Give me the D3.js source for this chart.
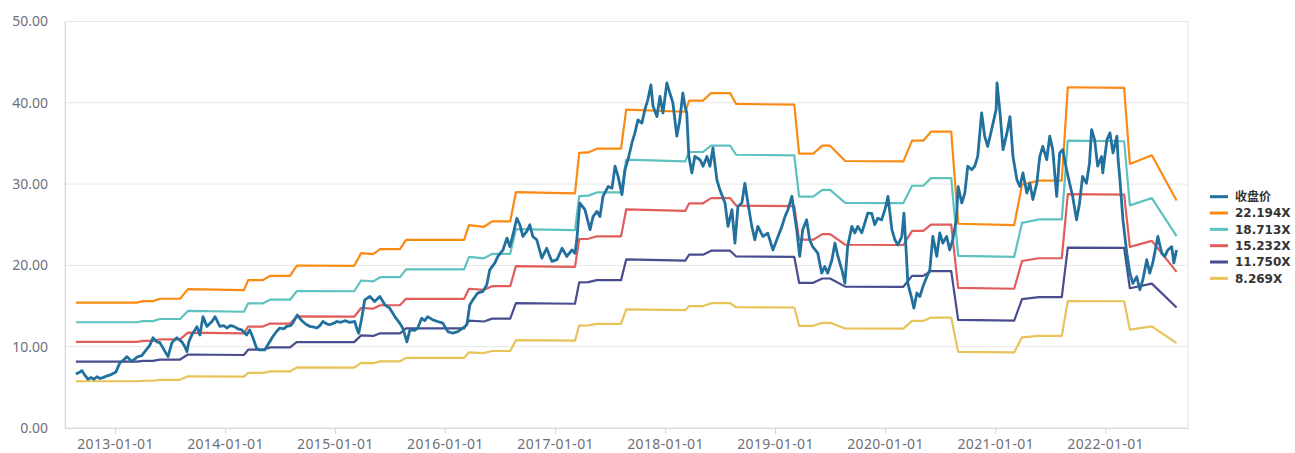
<!DOCTYPE html>
<html>
<head>
<meta charset="utf-8">
<script src="https://cdn.jsdelivr.net/npm/d3@7"></script>
<style>
  body { margin: 0; background: #fff; }
  svg { display: block; font-family: "Noto Sans", "Noto Sans CJK SC", sans-serif; }
</style>
</head>
<body>
<svg id="chart" width="1295" height="453"></svg>
<script>
// close price
const closePrice = [
  ["2012-08-24",6.65],["2012-09-07",6.9],["2012-09-13",7.06],["2012-09-23",6.5],["2012-10-03",6.0],["2012-10-13",6.2],["2012-10-23",6.0],["2012-11-02",6.3],["2012-11-12",6.1],["2012-11-22",6.2],["2012-12-05",6.4],["2012-12-15",6.5],
  ["2013-01-04",6.9],["2013-01-17",8.0],["2013-01-31",8.4],["2013-02-09",8.78],["2013-02-26",8.17],["2013-03-08",8.5],["2013-03-18",8.78],["2013-03-31",8.9],["2013-04-10",9.4],["2013-04-27",10.2],["2013-05-07",11.1],["2013-05-20",10.6],["2013-05-30",10.5],["2013-06-09",9.85],["2013-06-26",8.78],["2013-07-09",10.5],["2013-07-25",11.1],["2013-08-11",10.6],["2013-08-21",10.0],["2013-08-28",9.4],["2013-09-03",10.6],["2013-09-13",11.45],["2013-09-30",12.47],["2013-10-10",11.45],["2013-10-20",13.7],["2013-11-02",12.5],["2013-11-19",13.1],["2013-11-29",13.7],["2013-12-15",12.5],["2013-12-28",12.6],
  ["2014-01-07",12.3],["2014-01-20",12.6],["2014-01-30",12.5],["2014-02-13",12.2],["2014-02-26",12.07],["2014-03-14",11.45],["2014-03-24",12.07],["2014-04-03",11.2],["2014-04-16",9.8],["2014-04-26",9.6],["2014-05-13",9.6],["2014-05-23",10.2],["2014-06-09",11.25],["2014-06-22",11.9],["2014-07-02",12.3],["2014-07-15",12.2],["2014-07-25",12.5],["2014-08-07",12.6],["2014-08-14",12.9],["2014-08-29",13.9],["2014-09-06",13.5],["2014-09-16",13.1],["2014-09-29",12.7],["2014-10-10",12.5],["2014-10-23",12.4],["2014-11-02",12.3],["2014-11-12",12.6],["2014-11-22",13.1],["2014-12-05",12.8],["2014-12-15",12.7],["2014-12-29",12.9],
  ["2015-01-07",13.1],["2015-01-20",13.0],["2015-02-03",13.2],["2015-02-19",13.0],["2015-03-08",13.1],["2015-03-14",12.3],["2015-03-21",11.66],["2015-03-31",13.5],["2015-04-10",15.76],["2015-04-27",16.17],["2015-05-13",15.55],["2015-05-30",16.17],["2015-06-16",15.15],["2015-07-02",14.74],["2015-07-19",13.7],["2015-08-04",12.9],["2015-08-14",12.3],["2015-08-28",10.6],["2015-09-07",12.07],["2015-09-23",12.0],["2015-10-03",12.3],["2015-10-16",13.5],["2015-10-26",13.2],["2015-11-05",13.7],["2015-11-22",13.3],["2015-12-08",13.1],["2015-12-25",12.9],
  ["2016-01-11",11.86],["2016-01-27",11.66],["2016-02-13",11.86],["2016-02-29",12.27],["2016-03-14",12.7],["2016-03-24",15.15],["2016-04-03",15.76],["2016-04-19",16.6],["2016-05-06",16.8],["2016-05-19",17.6],["2016-05-29",19.46],["2016-06-15",20.3],["2016-06-25",21.1],["2016-07-12",21.9],["2016-07-25",23.36],["2016-08-04",22.3],["2016-08-14",23.77],["2016-08-27",25.8],["2016-09-06",25.0],["2016-09-16",23.56],["2016-09-29",24.18],["2016-10-09",25.0],["2016-10-19",23.56],["2016-11-01",23.15],["2016-11-18",20.9],["2016-12-04",22.1],["2016-12-21",20.5],
  ["2017-01-07",20.7],["2017-01-24",22.1],["2017-02-09",21.1],["2017-02-26",21.9],["2017-03-08",21.5],["2017-03-14",23.15],["2017-03-24",27.67],["2017-04-10",26.85],["2017-04-27",24.4],["2017-05-07",26.0],["2017-05-20",26.64],["2017-05-30",26.0],["2017-06-09",28.5],["2017-06-26",29.7],["2017-07-09",29.5],["2017-07-19",32.2],["2017-07-29",30.95],["2017-08-11",28.7],["2017-08-21",31.77],["2017-08-31",33.0],["2017-09-13",35.06],["2017-09-23",36.3],["2017-10-03",37.9],["2017-10-16",37.5],["2017-10-26",39.16],["2017-11-05",40.4],["2017-11-15",42.2],["2017-11-22",39.6],["2017-12-05",38.3],["2017-12-15",40.8],["2017-12-25",38.75],
  ["2018-01-07",42.45],["2018-01-17",41.2],["2018-01-27",40.0],["2018-02-09",35.9],["2018-02-19",37.9],["2018-03-01",41.2],["2018-03-08",39.6],["2018-03-14",38.75],["2018-03-21",33.4],["2018-03-31",31.37],["2018-04-10",33.4],["2018-04-27",33.0],["2018-05-07",32.2],["2018-05-20",33.4],["2018-05-30",32.2],["2018-06-09",34.45],["2018-06-22",30.54],["2018-07-02",29.3],["2018-07-19",27.67],["2018-07-29",24.8],["2018-08-11",26.85],["2018-08-21",22.75],["2018-08-31",27.25],["2018-09-13",27.67],["2018-09-23",30.1],["2018-10-03",27.67],["2018-10-16",24.8],["2018-10-26",23.15],["2018-11-05",24.8],["2018-11-22",23.56],["2018-12-08",23.97],["2018-12-25",21.9],
  ["2019-01-11",23.56],["2019-01-24",24.8],["2019-02-03",26.0],["2019-02-13",26.85],["2019-02-26",28.5],["2019-03-01",27.7],["2019-03-14",24.4],["2019-03-24",21.1],["2019-04-03",24.4],["2019-04-16",25.6],["2019-04-26",23.15],["2019-05-06",22.3],["2019-05-23",21.5],["2019-06-05",19.05],["2019-06-15",19.86],["2019-06-25",19.05],["2019-07-09",20.7],["2019-07-19",22.75],["2019-07-29",21.1],["2019-08-11",19.46],["2019-08-21",17.8],["2019-08-30",22.3],["2019-09-13",24.8],["2019-09-23",24.0],["2019-10-03",24.8],["2019-10-16",24.0],["2019-10-26",25.2],["2019-11-05",26.44],["2019-11-18",26.4],["2019-11-28",25.0],["2019-12-08",25.8],["2019-12-21",25.6],
  ["2020-01-04",27.25],["2020-01-11",28.5],["2020-01-24",24.4],["2020-02-03",23.15],["2020-02-13",22.5],["2020-02-26",23.56],["2020-03-04",26.44],["2020-03-10",22.75],["2020-03-17",17.8],["2020-03-31",15.76],["2020-04-06",14.74],["2020-04-16",16.6],["2020-04-26",16.17],["2020-05-06",17.4],["2020-05-19",18.6],["2020-05-29",19.46],["2020-06-08",23.56],["2020-06-21",21.1],["2020-07-01",24.0],["2020-07-11",22.75],["2020-07-24",23.56],["2020-08-03",21.9],["2020-08-13",23.15],["2020-08-25",25.6],["2020-08-31",29.7],["2020-09-12",27.67],["2020-09-22",28.9],["2020-10-02",32.2],["2020-10-15",31.77],["2020-10-25",32.2],["2020-11-04",33.4],["2020-11-17",38.75],["2020-11-27",35.9],["2020-12-07",34.64],["2020-12-20",36.7],
  ["2021-01-04",39.16],["2021-01-07",42.45],["2021-01-17",38.75],["2021-01-27",34.24],["2021-02-09",36.3],["2021-02-19",38.3],["2021-03-01",33.4],["2021-03-14",30.54],["2021-03-24",29.7],["2021-04-03",31.37],["2021-04-16",28.9],["2021-04-26",30.1],["2021-05-06",28.1],["2021-05-19",30.1],["2021-05-29",33.4],["2021-06-08",34.64],["2021-06-21",33.0],["2021-07-01",35.9],["2021-07-11",34.24],["2021-07-24",28.5],["2021-08-03",33.83],["2021-08-13",34.24],["2021-08-26",31.77],["2021-09-05",30.1],["2021-09-15",28.5],["2021-09-28",25.6],["2021-10-08",27.67],["2021-10-18",30.95],["2021-10-31",30.1],["2021-11-10",32.6],["2021-11-17",36.7],["2021-11-27",35.47],["2021-12-07",32.2],["2021-12-20",33.4],["2021-12-24",31.37],
  ["2022-01-07",35.47],["2022-01-17",36.3],["2022-01-27",33.83],["2022-02-09",35.9],["2022-02-13",33.0],["2022-02-19",30.54],["2022-03-01",25.6],["2022-03-14",21.5],["2022-03-24",19.05],["2022-04-03",17.8],["2022-04-16",18.6],["2022-04-26",17.0],["2022-05-06",18.2],["2022-05-19",20.7],["2022-05-29",19.05],["2022-06-08",20.3],["2022-06-25",23.56],["2022-07-08",21.5],["2022-07-18",21.1],["2022-07-28",21.9],["2022-08-10",22.3],["2022-08-17",20.3],["2022-08-26",21.9]
]

// PE band break points (dates) and the value of each band at them
const bandDates = [
  "2012-08-24","2013-03-15","2013-04-04","2013-05-07","2013-05-30","2013-08-05","2013-08-31","2014-03-05","2014-03-19","2014-05-07",
  "2014-05-31","2014-08-05","2014-08-28","2015-03-06","2015-03-29","2015-05-08","2015-05-31","2015-08-05","2015-08-25","2016-03-05",
  "2016-03-21","2016-05-10","2016-06-06","2016-08-05","2016-08-24","2017-03-08","2017-03-22","2017-04-21","2017-05-20","2017-08-08",
  "2017-08-25","2018-03-09","2018-03-22","2018-05-07","2018-06-03","2018-08-05","2018-08-25","2019-03-06","2019-03-22","2019-05-08",
  "2019-06-07","2019-07-03","2019-08-22","2020-03-02","2020-03-31","2020-05-07","2020-06-02","2020-08-08","2020-08-31","2021-03-05",
  "2021-03-31","2021-05-26","2021-08-10","2021-08-30","2022-03-05","2022-03-24","2022-06-05","2022-08-26"
]
const pe22194 = [15.43,15.43,15.6,15.6,15.9,15.9,17.08,16.96,18.19,18.19,18.72,18.72,19.99,19.95,21.51,21.39,22.0,22.0,23.15,23.15,24.96,24.75,25.41,25.41,29.02,28.86,33.83,33.9,34.36,34.36,39.16,38.9,40.27,40.27,41.2,41.2,39.86,39.78,33.74,33.74,34.73,34.73,32.84,32.8,35.34,35.34,36.45,36.45,25.12,24.96,29.93,30.42,30.42,41.91,41.83,32.47,33.54,27.99]
const pe18713 = [13.01,13.01,13.15,13.15,13.41,13.41,14.40,14.30,15.34,15.34,15.78,15.78,16.85,16.82,18.14,18.04,18.55,18.55,19.52,19.52,21.05,20.87,21.42,21.42,24.47,24.33,28.52,28.58,28.97,28.97,33.02,32.80,33.95,33.95,34.74,34.74,33.61,33.54,28.45,28.45,29.28,29.28,27.69,27.66,29.80,29.80,30.73,30.73,21.18,21.05,25.24,25.65,25.65,35.34,35.27,27.38,28.28,23.60]
const pe15232 = [10.59,10.59,10.71,10.71,10.91,10.91,11.72,11.64,12.48,12.48,12.85,12.85,13.72,13.69,14.76,14.68,15.10,15.10,15.89,15.89,17.13,16.99,17.44,17.44,19.92,19.81,23.22,23.27,23.58,23.58,26.88,26.70,27.64,27.64,28.28,28.28,27.36,27.30,23.16,23.16,23.84,23.84,22.54,22.51,24.25,24.25,25.02,25.02,17.24,17.13,20.54,20.88,20.88,28.76,28.71,22.28,23.02,19.21]
const pe11750 = [8.17,8.17,8.26,8.26,8.42,8.42,9.04,8.98,9.63,9.63,9.91,9.91,10.58,10.56,11.39,11.32,11.65,11.65,12.26,12.26,13.21,13.10,13.45,13.45,15.36,15.28,17.91,17.95,18.19,18.19,20.73,20.59,21.32,21.32,21.81,21.81,21.10,21.06,17.86,17.86,18.39,18.39,17.39,17.37,18.71,18.71,19.30,19.30,13.30,13.21,15.85,16.10,16.10,22.19,22.15,17.19,17.76,14.82]
const pe8269 = [5.75,5.75,5.81,5.81,5.92,5.92,6.36,6.32,6.78,6.78,6.97,6.97,7.45,7.43,8.01,7.97,8.20,8.20,8.63,8.63,9.30,9.22,9.47,9.47,10.81,10.75,12.60,12.63,12.80,12.80,14.59,14.49,15.00,15.00,15.35,15.35,14.85,14.82,12.57,12.57,12.94,12.94,12.24,12.22,13.17,13.17,13.58,13.58,9.36,9.30,11.15,11.33,11.33,15.61,15.59,12.10,12.50,10.43]

const seriesNames = ["收盘价", "22.194X", "18.713X", "15.232X", "11.750X", "8.269X"]
const seriesColors = ["#22709d", "#fa8a14", "#5dc2bf", "#e15d5c", "#474d8e", "#e8c35a"]
const yTicks = [0, 10, 20, 30, 40, 50]

const width = 1295, height = 453
const marginTop = 21.5, marginRight = 107, marginBottom = 25, marginLeft = 65

const svg = d3.select('#chart')
const parse = d3.timeParse('%Y-%m-%d')

const x = d3.scaleTime()
  .domain([new Date(2012, 6, 19), new Date(2022, 9, 3)])
  .range([marginLeft, width - marginRight])
const y = d3.scaleLinear()
  .domain([0, 50])
  .range([height - marginBottom, marginTop])

// grid
svg.append('g')
  .selectAll('line')
  .data(yTicks.slice(1))
  .join('line')
  .attr('x1', marginLeft).attr('x2', width - marginRight)
  .attr('y1', d => y(d)).attr('y2', d => y(d))
  .attr('stroke', '#e6e6e6')

svg.append('rect')
  .attr('x', marginLeft).attr('y', marginTop)
  .attr('width', width - marginRight - marginLeft)
  .attr('height', height - marginBottom - marginTop)
  .attr('fill', 'none')
  .attr('stroke', '#e3e5ec')

// axes
svg.append('g')
  .attr('transform', `translate(${marginLeft},0)`)
  .call(d3.axisLeft(y).tickValues(yTicks).tickFormat(d3.format('.2f')).tickSize(0).tickPadding(17))
  .call(g => g.select('.domain').attr('stroke', '#d3d7e2'))
  .call(g => g.selectAll('text').attr('fill', '#6e7079').style('font-size', '14px').style('font-family', '"Noto Sans", sans-serif'))

svg.append('g')
  .attr('transform', `translate(0,${height - marginBottom})`)
  .call(d3.axisBottom(x).ticks(d3.timeYear.every(1)).tickFormat(d3.timeFormat('%Y-%m-%d')).tickSizeInner(6).tickSizeOuter(0).tickPadding(5))
  .call(g => g.select('.domain').attr('stroke', '#d3d7e2'))
  .call(g => g.selectAll('.tick line').attr('stroke', '#d3d7e2'))
  .call(g => g.selectAll('text').attr('fill', '#6e7079').style('font-size', '14px')
    .style('letter-spacing', '0.35px').style('font-family', '"Noto Sans", sans-serif'))

const line = d3.line()
  .x(d => x(d.date))
  .y(d => y(d.value))

// bands
const bandValues = [pe22194, pe18713, pe15232, pe11750, pe8269]
const bands = bandValues.map((vals, i) => ({
  name: seriesNames[i + 1],
  color: seriesColors[i + 1],
  points: bandDates.map((d, j) => ({ date: parse(d), value: vals[j] }))
}))

svg.append('g')
  .selectAll('path')
  .data(bands)
  .join('path')
  .attr('d', d => line(d.points))
  .attr('fill', 'none')
  .attr('stroke', d => d.color)
  .attr('stroke-width', 2.2)
  .attr('stroke-linejoin', 'round')

// price on top
const price = closePrice.map(([d, v]) => ({ date: parse(d), value: v }))
svg.append('path')
  .datum(price)
  .attr('d', line)
  .attr('fill', 'none')
  .attr('stroke', seriesColors[0])
  .attr('stroke-width', 2.8)
  .attr('stroke-linejoin', 'round')

// legend
const legend = svg.append('g')
  .attr('transform', 'translate(1210,196.7)')
  .selectAll('g')
  .data(seriesNames)
  .join('g')
  .attr('transform', (d, i) => `translate(0,${i * 16.33})`)

legend.append('line')
  .attr('x1', 0).attr('x2', 18)
  .attr('stroke', (d, i) => seriesColors[i])
  .attr('stroke-width', 3)

legend.append('text')
  .attr('x', 25)
  .attr('dy', '0.36em')
  .attr('fill', '#333')
  .style('font-family', '"DejaVu Sans", "Noto Sans CJK SC", sans-serif')
  .style('font-size', '12px')
  .style('font-weight', 'bold')
  .text(d => d)
</script>
</body>
</html>
